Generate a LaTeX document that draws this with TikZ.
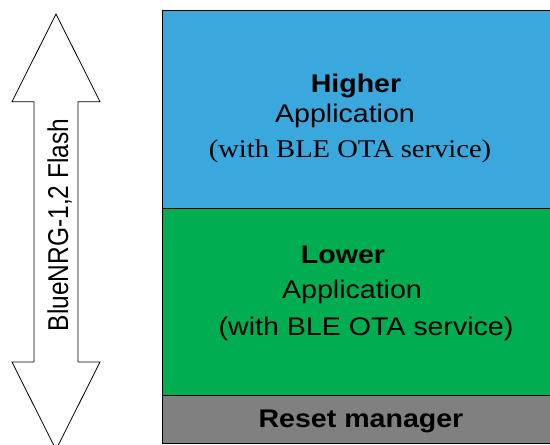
\documentclass[tikz,border=0pt]{standalone}
\usepackage{fontspec}
\setmainfont{Liberation Sans}
\newfontfamily\timesfont{Liberation Serif}
\definecolor{hiblue}{HTML}{3AA8DC}
\definecolor{logreen}{HTML}{00AD50}
\definecolor{rgray}{HTML}{808080}
\newcommand{\sx}[1]{\scalebox{1.12}[1]{#1}}
\begin{document}
\begin{tikzpicture}[x=1pt,y=-1pt,
  blk/.style={draw=black, line width=1pt},
  txt/.style={anchor=base, inner sep=0pt, font=\fontsize{25.5}{28}\selectfont},
  vtxt/.style={anchor=base, inner sep=0pt, font=\fontsize{24.5}{28}\selectfont}]
\useasboundingbox (0,0) rectangle (550,445);
\clip (0,0) rectangle (550,445);
% flash arrow
\draw[line width=0.8pt, fill=white] (56,14) -- (100,101.7) -- (78,101.7) -- (78,362) -- (100,362)
  -- (56,449.7) -- (12,362) -- (34,362) -- (34,101.7) -- (12,101.7) -- cycle;
\node[vtxt, rotate=90] (flash) at (68,225) {\scalebox{1}[1.17]{BlueNRG-1,2 Flash}};
% memory blocks
\fill[hiblue] (162,10) rectangle (552,208);
\fill[logreen] (162,209) rectangle (552,395);
\fill[rgray] (162,395) rectangle (552,443);
\draw[blk] (162,10) rectangle (552,443);
\draw[line width=1.6pt] (162,208.5) -- (552,208.5);
\draw[blk] (162,395) -- (552,395);
% texts
\node[txt] (hi1) at (356,92) {\sx{\bfseries Higher}};
\node[txt] (hi2) at (345,122) {\sx{Application}};
\node[txt] (hi3) at (350,157) {\sx{\timesfont (with BLE OTA service)}};
\node[txt] (lo1) at (343,263) {\sx{\bfseries Lower}};
\node[txt] (lo2) at (352,298) {\sx{Application}};
\node[txt] (lo3) at (366,335) {\sx{(with BLE OTA service)}};
\node[txt] (rm) at (361,427) {\sx{\bfseries Reset manager}};
\end{tikzpicture}
\end{document}
